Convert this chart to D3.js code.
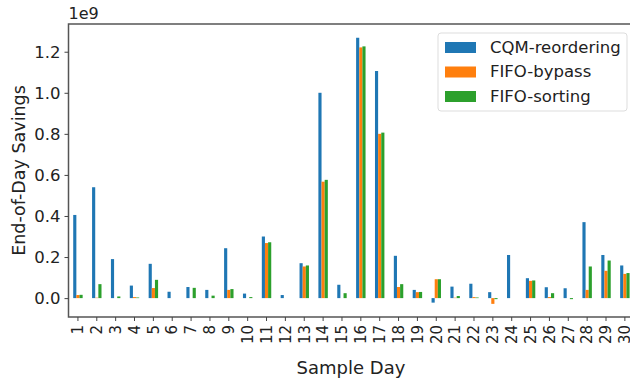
<!DOCTYPE html>
<html>
<head>
<meta charset="utf-8">
<script src="https://cdn.jsdelivr.net/npm/d3@7"></script>
<style>
  body { margin: 0; background: #fff; overflow: hidden; }
  text { font-family: "DejaVu Sans", sans-serif; fill: #222; }
</style>
</head>
<body>
<div id="container"></div>
<script>
"use strict";

// Values in units of 1e9.
const days = d3.range(1, 31).map(String);
const seriesNames = ["CQM-reordering", "FIFO-bypass", "FIFO-sorting"];
const seriesColors = ["#1f77b4", "#ff7f0e", "#2ca02c"];
const cqmReordering = [
  0.405, 0.54, 0.19, 0.061, 0.167, 0.031, 0.054, 0.04, 0.243, 0.022,
  0.3, 0.015, 0.17, 1.0, 0.065, 1.268, 1.106, 0.206, 0.04, -0.022,
  0.056, 0.07, 0.029, 0.21, 0.097, 0.053, 0.048, 0.37, 0.21, 0.159
];
const fifoBypass = [
  0.015, 0.002, 0.0, 0.005, 0.049, 0.0, 0.0, 0.0, 0.04, 0.0,
  0.268, 0.0, 0.154, 0.567, 0.0, 1.221, 0.8, 0.054, 0.029, 0.092,
  0.002, 0.005, -0.028, 0.0, 0.084, 0.005, 0.0, 0.04, 0.133, 0.118
];
const fifoSorting = [
  0.016, 0.068, 0.008, 0.003, 0.089, 0.0, 0.05, 0.012, 0.044, 0.005,
  0.272, 0.0, 0.159, 0.576, 0.024, 1.226, 0.806, 0.068, 0.03, 0.092,
  0.01, 0.003, -0.005, 0.0, 0.086, 0.024, -0.005, 0.154, 0.183, 0.122
];
const yTicks = [0, 0.2, 0.4, 0.6, 0.8, 1.0, 1.2];

const seriesValues = [cqmReordering, fifoBypass, fifoSorting];
const data = [];
days.forEach((day, i) => {
  seriesNames.forEach((name, s) => {
    data.push({ key: day, group: name, value: seriesValues[s][i] });
  });
});

const width = 630;
const height = 381;
const plot = { left: 68.5, right: 634.3, top: 24, bottom: 317 };

const svg = d3.create("svg").attr("width", width).attr("height", height);
d3.select("#container").append(() => svg.node());

const x = d3.scaleBand()
  .domain(days)
  .range([plot.left, plot.right])
  .paddingInner(0.5)
  .paddingOuter(0.25);
const xInner = d3.scaleBand().domain(seriesNames).range([0, x.bandwidth()]);
const y = d3.scaleLinear().domain([-0.092, 1.335]).range([plot.bottom, plot.top]);
const color = d3.scaleOrdinal().domain(seriesNames).range(seriesColors);

// Bars.
svg
  .append("g")
  .selectAll("rect")
  .data(data)
  .join("rect")
  .attr("x", (d) => x(d.key) + xInner(d.group))
  .attr("y", (d) => y(Math.max(0, d.value)))
  .attr("width", xInner.bandwidth())
  .attr("height", (d) => Math.abs(y(d.value) - y(0)))
  .style("fill", (d) => color(d.group));

// Frame.
svg
  .append("rect")
  .attr("x", plot.left)
  .attr("y", plot.top)
  .attr("width", plot.right - plot.left)
  .attr("height", plot.bottom - plot.top)
  .attr("fill", "none")
  .attr("stroke", "#555")
  .attr("stroke-width", 1.5);

// Y axis.
const yAxis = svg
  .append("g")
  .attr("transform", `translate(${plot.left}, 0)`)
  .call(d3.axisLeft(y).tickValues(yTicks).tickFormat(d3.format(".1f")).tickSize(4).tickPadding(4));
yAxis.select(".domain").remove();
yAxis.selectAll("line").attr("stroke", "#444");
yAxis.selectAll("text").style("font-size", "16.5px").style("font-family", "DejaVu Sans");

// X axis.
const xAxis = svg
  .append("g")
  .attr("transform", `translate(0, ${plot.bottom})`)
  .call(d3.axisBottom(x).tickSize(4).tickPadding(4));
xAxis.select(".domain").remove();
xAxis.selectAll("line").attr("stroke", "#444");
xAxis
  .selectAll("text")
  .style("font-size", "15px")
  .style("font-family", "DejaVu Sans")
  .attr("text-anchor", "end")
  .attr("dy", "0.35em")
  .attr("transform", "translate(0, 8) rotate(-90)")
  .attr("x", 0)
  .attr("y", 0);

// Offset text.
svg.append("text").attr("x", plot.left).attr("y", 19).style("font-size", "16px").text("1e9");

// Axis titles.
svg
  .append("text")
  .attr("transform", `translate(19, ${(plot.top + plot.bottom) / 2}) rotate(-90)`)
  .attr("text-anchor", "middle")
  .attr("dy", "0.35em")
  .style("font-size", "17.5px")
  .text("End-of-Day Savings");
svg
  .append("text")
  .attr("x", 351)
  .attr("y", 374)
  .attr("text-anchor", "middle")
  .style("font-size", "18px")
  .text("Sample Day");

// Legend.
const legend = svg.append("g").attr("transform", "translate(438, 33)");
legend
  .append("rect")
  .attr("width", 189)
  .attr("height", 78)
  .attr("rx", 3)
  .attr("fill", "#fff")
  .attr("fill-opacity", 0.8)
  .attr("stroke", "#ddd");
seriesNames.forEach((name, i) => {
  const row = legend.append("g").attr("transform", `translate(0, ${14 + i * 24.5})`);
  row.append("rect").attr("x", 7).attr("y", -5).attr("width", 31).attr("height", 11).style("fill", color(name));
  row
    .append("text")
    .attr("x", 52)
    .attr("y", 0)
    .attr("dy", "0.35em")
    .style("font-size", "16.5px")
    .text(name);
});
</script>
</body>
</html>
